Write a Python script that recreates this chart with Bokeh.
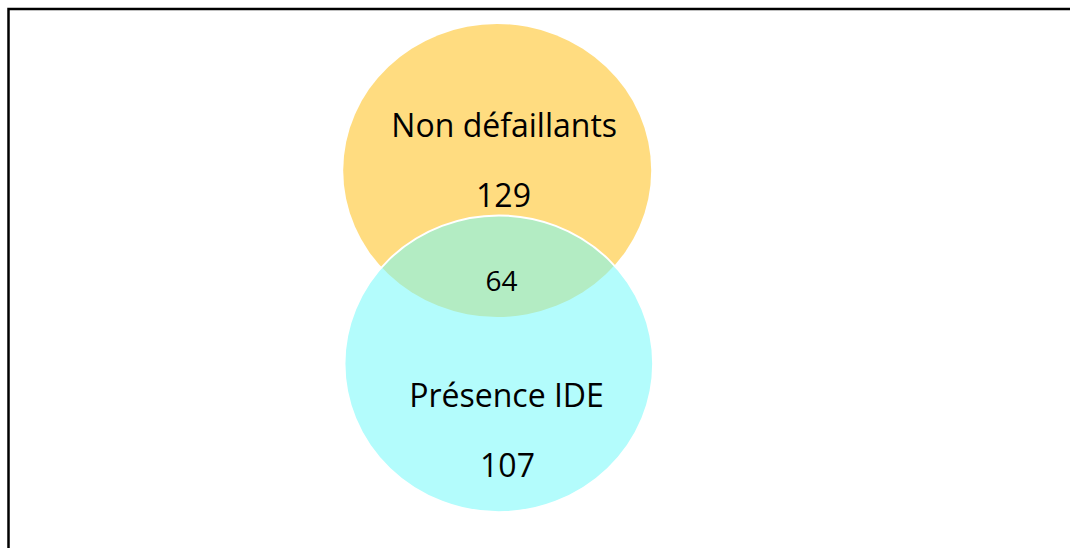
from bokeh.plotting import figure
from bokeh.models import Range1d, ColumnDataSource
from bokeh.core.properties import value
from bokeh.embed import file_html
from bokeh.resources import INLINE

# ---- data ----
set_labels = ["Non défaillants", "Présence IDE"]
only_counts = [129, 107]
overlap_count = 64
set_colors = ["#FFDC80", "#75FAFA"]

# ---- layout (pixel-like canvas units) ----
W, H = 1070, 548
circle_cx = [496.7, 498.3]
circle_cy = [170.0, 363.3]
circle_w = [308.0, 308.7]
circle_h = [293.0, 296.7]
label_x = [503.7, 506.0]
label_y = [124.0, 394.0]
count_x = [503.0, 507.0]
count_y = [194.0, 464.0]
overlap_xy = (501.0, 280.0)

p = figure(width=W, height=H, x_range=Range1d(0, W), y_range=Range1d(H, 0),
           output_backend="svg", toolbar_location=None,
           min_border=0, min_border_left=0, min_border_right=0,
           min_border_top=0, min_border_bottom=0)
p.axis.visible = False
p.grid.visible = False
p.outline_line_color = None
p.background_fill_color = "white"
p.border_fill_color = "white"

# top set
p.ellipse(x=[circle_cx[0]], y=[circle_cy[0]], width=[circle_w[0]], height=[circle_h[0]],
          fill_color=set_colors[0], fill_alpha=1.0, line_color=None)
# bottom set (semi-transparent to create the overlap tint)
p.ellipse(x=[circle_cx[1]], y=[circle_cy[1]], width=[circle_w[1]], height=[circle_h[1]],
          fill_color=set_colors[1], fill_alpha=0.55, line_color="white", line_width=2)

font = value("Open Sans")
src_lab = ColumnDataSource(dict(x=label_x, y=label_y, t=set_labels))
p.text(x="x", y="y", text="t", source=src_lab, text_font=font, text_font_size="32px",
       text_align="center", text_baseline="alphabetic", text_color="black")
src_cnt = ColumnDataSource(dict(x=count_x, y=count_y, t=[str(v) for v in only_counts]))
p.text(x="x", y="y", text="t", source=src_cnt, text_font=font, text_font_size="32px",
       text_align="center", text_baseline="alphabetic", text_color="black")
p.text(x=[overlap_xy[0]], y=[overlap_xy[1]], text=[str(overlap_count)], text_font=font,
       text_font_size="28px", text_align="center", text_baseline="alphabetic", text_color="black")

# frame lines (top and left, as in the reference)
p.line(x=[8.0, 8.0, W + 5], y=[H + 5, 8.5, 8.5], line_color="black", line_width=2.5,
       line_join="miter")

open("out.html", "w").write(file_html(p, INLINE))
